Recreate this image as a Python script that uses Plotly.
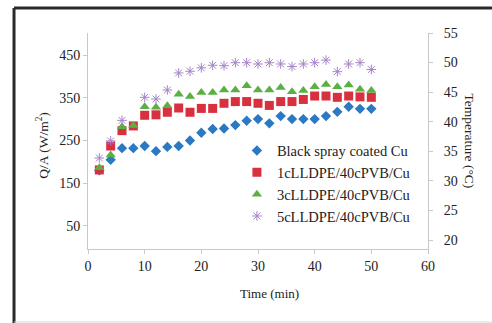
import plotly.graph_objects as go

time_min = [2, 4, 6, 8, 10, 12, 14, 16, 18, 20, 22, 24, 26, 28, 30, 32, 34, 36, 38, 40, 42, 44, 46, 48, 50]
black_cu = [180, 205, 232, 232, 237, 225, 235, 237, 250, 268, 277, 278, 286, 296, 300, 290, 307, 300, 300, 300, 307, 317, 329, 324, 324]
lldpe1 = [181, 237, 273, 284, 309, 310, 316, 326, 316, 325, 325, 337, 341, 341, 337, 332, 341, 341, 346, 354, 354, 351, 354, 352, 351]
lldpe3 = [186, 216, 282, 285, 329, 328, 331, 358, 353, 362, 362, 368, 368, 378, 368, 368, 374, 364, 367, 376, 381, 376, 380, 370, 367]
lldpe5 = [209, 249, 297, None, 351, 347, 368, 408, 412, 420, 426, 425, 432, 432, 429, 432, 429, 423, 429, 432, 438, 411, 429, 432, 416]

names = ["Black spray coated Cu", "1cLLDPE/40cPVB/Cu", "3cLLDPE/40cPVB/Cu", "5cLLDPE/40cPVB/Cu"]
series = [black_cu, lldpe1, lldpe3, lldpe5]
colors = ["#2b79c2", "#d9303f", "#5bb043", "#a584c8"]
symbols = ["diamond", "square", "triangle-up", "asterisk-open"]
sizes = [8, 9, 9, 8]

x_ticks = [0, 10, 20, 30, 40, 50, 60]
q_ticks = [50, 150, 250, 350, 450]
t_ticks = [20, 25, 30, 35, 40, 45, 50, 55]

FONT = "Liberation Serif"
TXT = "#222222"
fig = go.Figure()
for name, ys, c, s, sz in zip(names, series, colors, symbols, sizes):
    fig.add_trace(go.Scatter(
        x=time_min, y=ys, mode="markers", name=name,
        marker=dict(color=c, symbol=s, size=sz,
                    line=dict(color=c, width=1.0 if s == "asterisk-open" else 0)),
    ))
fig.add_trace(go.Scatter(x=[None], y=[None], yaxis="y2", showlegend=False, hoverinfo="skip"))

axis_color = "#c8c8c8"
tick_font = dict(family=FONT, size=14, color=TXT)
common = dict(showgrid=False, zeroline=False, showline=True, linecolor=axis_color, linewidth=1,
              ticks="outside", ticklen=4, tickcolor=axis_color, tickfont=tick_font)
fig.update_layout(
    width=492, height=323,
    margin=dict(l=88, r=64, t=33, b=74),
    paper_bgcolor="white", plot_bgcolor="white",
    font=dict(family=FONT, size=13, color=TXT),
    xaxis=dict(range=[0, 60], tickvals=x_ticks, **common),
    yaxis=dict(range=[-4, 501.5], tickvals=q_ticks, **common),
    yaxis2=dict(range=[18.5, 55], tickvals=t_ticks, overlaying="y", side="right",
                ticklabelstandoff=8, **common),
    legend=dict(x=0.438, y=0.53, xanchor="left", yanchor="top",
                bgcolor="rgba(0,0,0,0)", font=dict(family=FONT, size=14.5, color=TXT),
                itemwidth=30, tracegroupgap=0),
    showlegend=True,
)
fig.add_annotation(text="Q/A (W/m<sup>2</sup>)", xref="paper", yref="paper",
                   x=-0.165, y=0.48, textangle=-90, showarrow=False,
                   font=dict(family=FONT, size=13.5, color=TXT))
fig.add_annotation(text="Temperature (°C)", xref="paper", yref="paper",
                   x=1.15, y=0.5, textangle=90, showarrow=False,
                   font=dict(family=FONT, size=13.5, color=TXT))
fig.add_annotation(text="Time (min)", xref="paper", yref="paper",
                   x=0.535, y=-0.25, showarrow=False,
                   font=dict(family=FONT, size=13, color=TXT))
# outer frame of the figure
fig.add_shape(type="line", xref="paper", yref="paper", x0=-0.2176, x1=1.2, y0=1.1157, y1=1.1157,
              line=dict(color="#2a2a2a", width=3))
fig.add_shape(type="line", xref="paper", yref="paper", x0=-0.2176, x1=-0.2176, y0=1.1157, y1=-0.36,
              line=dict(color="#2a2a2a", width=3))
fig.add_shape(type="line", xref="paper", yref="paper", x0=-0.2176, x1=1.2, y0=-0.338, y1=-0.338,
              line=dict(color="#d8d8d8", width=1))
fig.write_html("out.html", config={"displayModeBar": False},
               post_script="document.body.style.margin='0';document.body.style.padding='0';")
